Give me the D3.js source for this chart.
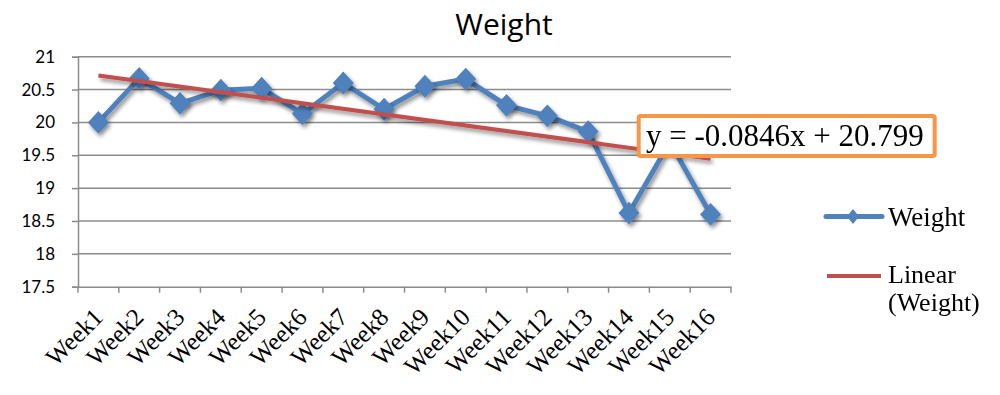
<!DOCTYPE html>
<html><head><meta charset="utf-8">
<script src="https://cdn.jsdelivr.net/npm/d3@7"></script>
<style>
html,body{margin:0;padding:0;background:#fff;}
svg{display:block;}
</style></head>
<body>
<svg id="chart" width="1000" height="395"></svg>
<script>
const categories = ["Week1","Week2","Week3","Week4","Week5","Week6","Week7","Week8","Week9","Week10","Week11","Week12","Week13","Week14","Week15","Week16"];
const weight = [20.0,20.67,20.29,20.49,20.52,20.13,20.6,20.2,20.55,20.66,20.26,20.1,19.86,18.62,19.7,18.6];
const yTicks = [17.5,18,18.5,19,19.5,20,20.5,21];
const trendSlope = -0.0846;
const trendIntercept = 20.799;
const titleText = "Weight";
const equationText = "y = -0.0846x + 20.799";
const legendLabels = ["Weight", ["Linear","(Weight)"]];

(function(){
const svg = d3.select("#chart");
const pL = 78, pR = 731, pT = 56.7, pB = 286.7;
const blue = "#4F81BD", red = "#C0504D", grid = "#8C8C8C";
const sansF = "'Open Sans', Lato, sans-serif";
const ySansF = "Lato, 'Open Sans', sans-serif";
const serifF = "'Liberation Serif', 'DejaVu Serif', serif";

const x = d3.scaleBand().domain(categories).range([pL, pR]);
const y = d3.scaleLinear().domain([17.5, 21]).range([pB, pT]);
const cx = d => x(d) + x.bandwidth() / 2;

const defs = svg.append("defs");
const f = defs.append("filter").attr("id","shadow").attr("x","-10%").attr("y","-50%").attr("width","120%").attr("height","200%");
f.append("feGaussianBlur").attr("in","SourceAlpha").attr("stdDeviation",2.2).attr("result","b");
f.append("feOffset").attr("in","b").attr("dx",2).attr("dy",3).attr("result","o");
f.append("feComponentTransfer").attr("in","o").attr("result","o2").append("feFuncA").attr("type","linear").attr("slope",0.45);
const m = f.append("feMerge");
m.append("feMergeNode").attr("in","o2");
m.append("feMergeNode").attr("in","SourceGraphic");

// title
svg.append("text").attr("x", 504).attr("y", 35).attr("text-anchor","middle")
  .attr("font-family", sansF).attr("font-size", 30).attr("fill","#000").text(titleText);

// gridlines
svg.append("g").selectAll("line").data(yTicks.filter(v => v > 17.5)).join("line")
  .attr("x1", pL).attr("x2", pR).attr("y1", d => y(d)).attr("y2", d => y(d))
  .attr("stroke", grid).attr("stroke-width", 1.5);

// y axis
const yAxis = svg.append("g").attr("transform", `translate(${pL},0)`)
  .call(d3.axisLeft(y).tickValues(yTicks).tickSize(6).tickPadding(17).tickFormat(d3.format("")));
yAxis.select(".domain").attr("stroke", grid).attr("stroke-width", 1.5);
yAxis.selectAll(".tick line").attr("stroke", grid).attr("stroke-width", 1.5);
yAxis.selectAll(".tick text").attr("font-family", ySansF).attr("font-size", 17).attr("fill","#000");

// x axis
const xAxis = svg.append("g").attr("transform", `translate(0,${pB})`)
  .call(d3.axisBottom(x).tickSize(0).tickFormat(""));
xAxis.select(".domain").attr("stroke", grid).attr("stroke-width", 1.5);
const edges = categories.map(c => x(c)).concat([pR]);
svg.append("g").selectAll("line").data(edges).join("line")
  .attr("x1", d => d).attr("x2", d => d).attr("y1", pB).attr("y2", pB + 6)
  .attr("stroke", grid).attr("stroke-width", 1.5);
svg.append("g").selectAll("text").data(categories).join("text")
  .attr("transform", d => `translate(${cx(d) + 6},${pB + 32}) rotate(-45)`)
  .attr("text-anchor","end")
  .attr("font-family", serifF).attr("font-size", 25).attr("fill","#000").text(d => d);

// series line
const pts = categories.map((c, i) => [cx(c), y(weight[i])]);
svg.append("path").attr("d", d3.line()(pts)).attr("fill","none")
  .attr("stroke", blue).attr("stroke-width", 5).attr("stroke-linejoin","round")
  .attr("filter","url(#shadow)");
svg.append("g").attr("filter","url(#shadow)").selectAll("path").data(pts).join("path")
  .attr("d", d3.symbol().type(d3.symbolDiamond).size(150)())
  .attr("transform", d => `translate(${d[0]},${d[1]}) scale(1.6,1)`).attr("fill", blue);

// trend line
const tA = trendIntercept + trendSlope * 1, tB = trendIntercept + trendSlope * categories.length;
svg.append("line")
  .attr("x1", cx(categories[0])).attr("y1", y(tA))
  .attr("x2", cx(categories[categories.length-1])).attr("y2", y(tB))
  .attr("stroke", red).attr("stroke-width", 4).attr("filter","url(#shadow)");

// equation box
svg.append("rect").attr("x", 638.7).attr("y", 116).attr("width", 296).attr("height", 40)
  .attr("fill","#fff").attr("stroke","#F79646").attr("stroke-width", 4).attr("rx",2);
svg.append("text").attr("x", 646).attr("y", 146)
  .attr("font-family", serifF).attr("font-size", 31).attr("fill","#000").text(equationText);

// legend
const lg = svg.append("g");
lg.append("line").attr("x1", 826).attr("x2", 882).attr("y1", 216.5).attr("y2", 216.5)
  .attr("stroke", blue).attr("stroke-width", 5).attr("stroke-linecap","round");
lg.append("path").attr("d", d3.symbol().type(d3.symbolDiamond).size(65)())
  .attr("transform","translate(853,216.5) scale(1.4,1)").attr("fill", blue);
lg.append("text").attr("x", 888).attr("y", 226).attr("font-family", serifF).attr("font-size", 27).text(legendLabels[0]);
lg.append("line").attr("x1", 827).attr("x2", 881).attr("y1", 276).attr("y2", 276)
  .attr("stroke", red).attr("stroke-width", 4);
lg.append("text").attr("x", 888).attr("y", 283).attr("font-family", serifF).attr("font-size", 26).text(legendLabels[1][0]);
lg.append("text").attr("x", 888).attr("y", 311).attr("font-family", serifF).attr("font-size", 26).text(legendLabels[1][1]);
})();
</script>
</body></html>
